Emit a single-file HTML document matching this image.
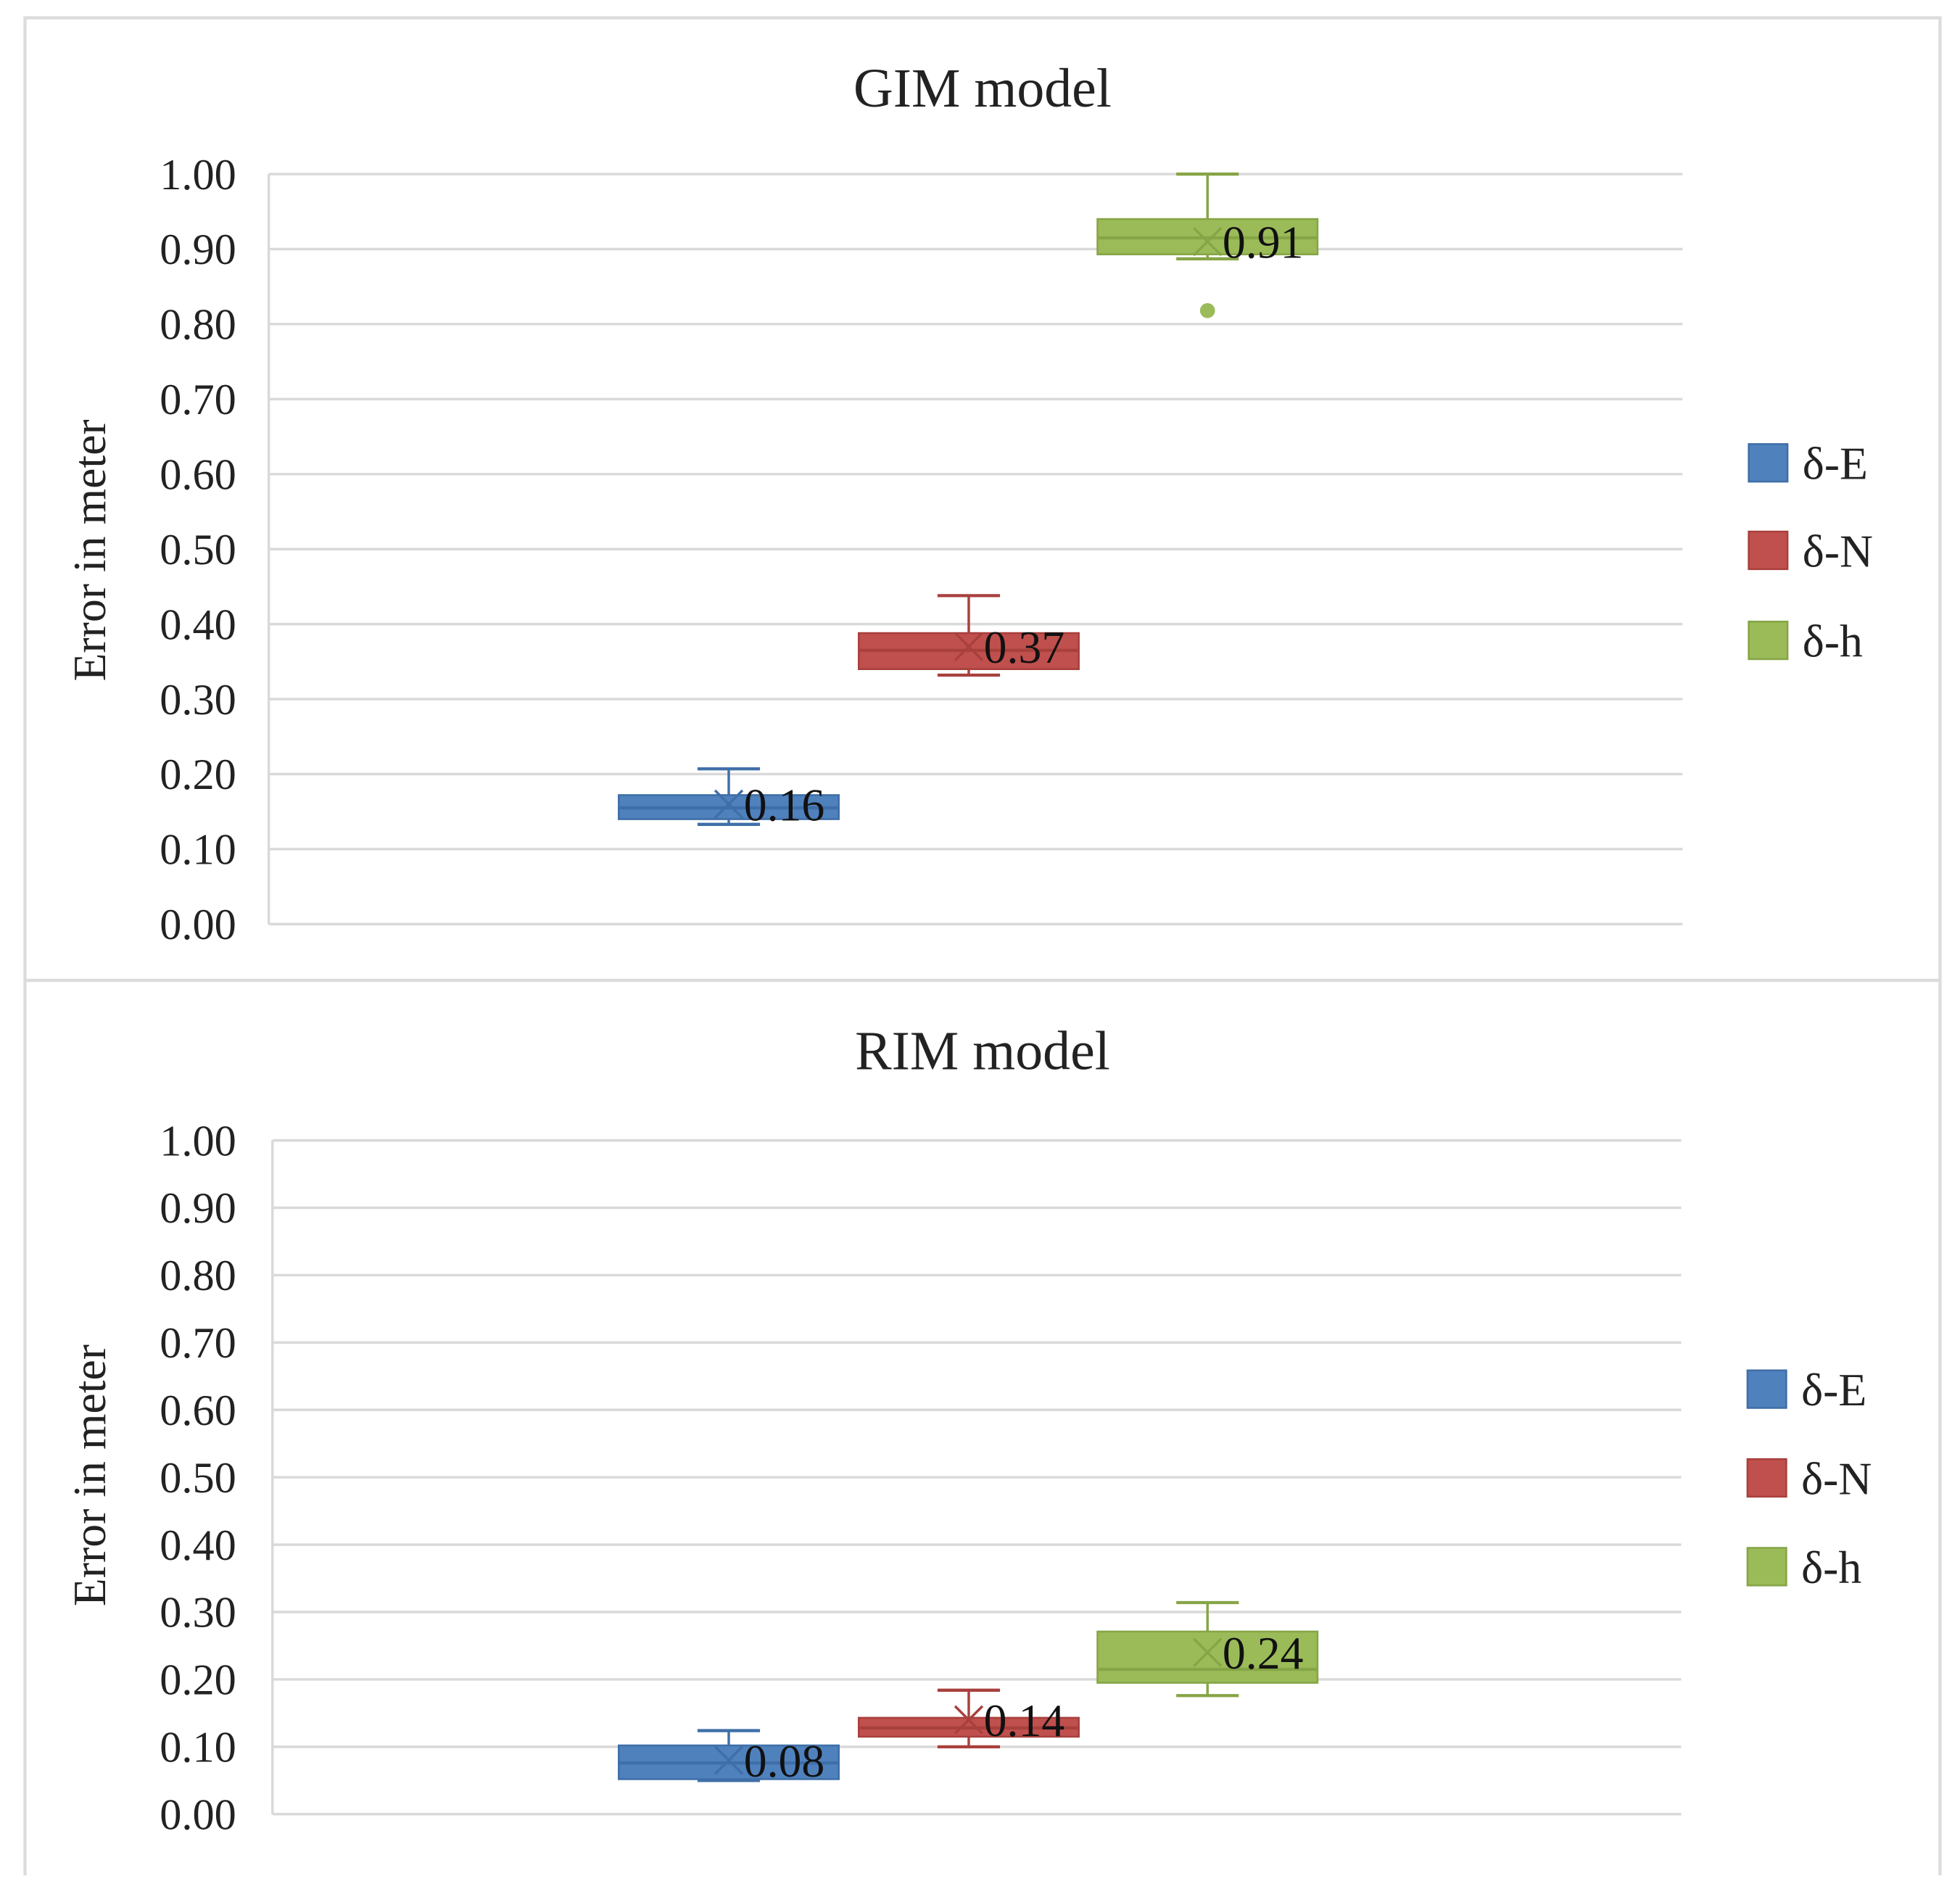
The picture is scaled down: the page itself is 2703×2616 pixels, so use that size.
<!DOCTYPE html>
<html><head><meta charset="utf-8"><style>
html,body{margin:0;padding:0;background:#fff;}
svg{display:block;font-family:"Liberation Serif",serif;}
</style></head><body>
<svg id="chart" width="2703" height="2616" viewBox="0 0 1568 1517" xmlns="http://www.w3.org/2000/svg">
<rect x="0" y="0" width="1568" height="1517" fill="#fff"/>
<g id="frame" stroke="#dcdcdc" stroke-width="2.5" fill="none">
<polyline points="20,1500 20,14 1552,14 1552,1500"/>
<line x1="20" y1="784" x2="1552" y2="784"/>
</g>
<g id="p0"></g>
<g id="p1"></g>
</svg>
<script>
const ticks = ["0.00","0.10","0.20","0.30","0.40","0.50","0.60","0.70","0.80","0.90","1.00"];
const tickValues = [0,0.1,0.2,0.3,0.4,0.5,0.6,0.7,0.8,0.9,1.0];
const seriesNames = ["δ-E","δ-N","δ-h"];
const panelTitles = ["GIM model","RIM model"];
// GIM
const gimMin = [0.133,0.332,0.887];
const gimQ1 = [0.140,0.340,0.893];
const gimMedian = [0.155,0.365,0.915];
const gimQ3 = [0.172,0.388,0.940];
const gimMax = [0.207,0.438,1.000];
const gimMean = [0.16,0.37,0.91];
const gimMeanLabels = ["0.16","0.37","0.91"];
const gimOutliers = [[],[],[0.818]];
// RIM
const rimMin = [0.050,0.100,0.176];
const rimQ1 = [0.052,0.115,0.195];
const rimMedian = [0.076,0.128,0.215];
const rimQ3 = [0.102,0.143,0.271];
const rimMax = [0.124,0.184,0.314];
const rimMean = [0.08,0.14,0.24];
const rimMeanLabels = ["0.08","0.14","0.24"];
const rimOutliers = [[],[],[]];

const fills = ["#4f81bd","#c0504d","#9bbb59"];
const strokes = ["#3f6fa8","#a8403d","#86a546"];
const NS = "http://www.w3.org/2000/svg";
function mk(tag, attrs, parent, text){
  const e = document.createElementNS(NS, tag);
  Object.keys(attrs).forEach(function(k){ e.setAttribute(k, String(attrs[k])); });
  if (text !== undefined) e.textContent = text;
  parent.appendChild(e); return e;
}
const layouts = [
  {gid:"p0", base:739, top:139, xl:215, xr:1346, titleY:85, axisTitleY:440, legY:[370,440,512], legX:1399, prefix:"gim",
   lo:gimMin, a:gimQ1, med:gimMedian, b:gimQ3, hi:gimMax, avg:gimMean, lbl:gimMeanLabels, outl:gimOutliers},
  {gid:"p1", base:1451, top:912, xl:218, xr:1345, titleY:855, axisTitleY:1180, legY:[1111,1182,1253], legX:1398, prefix:"rim",
   lo:rimMin, a:rimQ1, med:rimMedian, b:rimQ3, hi:rimMax, avg:rimMean, lbl:rimMeanLabels, outl:rimOutliers}
];
const centers = [583,775,966];
const boxW = 176, capW = 50;
for (let pi = 0; pi < layouts.length; pi++) {
  const L = layouts[pi];
  const g = document.getElementById(L.gid);
  const yScale = function(v){ return L.base + (L.top - L.base) * Number(v); };
  const t = mk("text",{x:786,y:L.titleY,"text-anchor":"middle","font-size":44,fill:"#222"},g,panelTitles[pi]);
  
  
  for (let k = 0; k < tickValues.length; k++) {
    const vy = yScale(tickValues[k]);
    const gl = mk("line",{x1:L.xl,x2:L.xr,y1:vy,y2:vy,stroke:"#d9d9d9","stroke-width":2},g);
    
    
    const tl = mk("text",{x:189,y:vy+12,"text-anchor":"end","font-size":35,fill:"#222"},g,ticks[k]);
    
    
  }
  const ax = mk("line",{x1:L.xl,x2:L.xl,y1:L.top,y2:L.base,stroke:"#d9d9d9","stroke-width":2},g);
  
  
  const at = mk("text",{x:0,y:0,transform:"translate(84,"+L.axisTitleY+") rotate(-90)","text-anchor":"middle","font-size":37,fill:"#222"},g,"Error in meter");
  
  
  for (let i = 0; i < 3; i++) {
    const cx = centers[i], col = strokes[i];
    const yHi = yScale(L.hi[i]), yLo = yScale(L.lo[i]);
    const yB = yScale(L.b[i]), yA = yScale(L.a[i]);
    const yMed = yScale(L.med[i]), yAvg = yScale(L.avg[i]);
    const bg = mk("g",{},g);
    
    
    mk("line",{x1:cx,x2:cx,y1:yHi,y2:yB,stroke:col,"stroke-width":2},bg);
    mk("line",{x1:cx,x2:cx,y1:yA,y2:yLo,stroke:col,"stroke-width":2},bg);
    mk("line",{x1:cx-capW/2,x2:cx+capW/2,y1:yHi,y2:yHi,stroke:col,"stroke-width":2.5},bg);
    mk("line",{x1:cx-capW/2,x2:cx+capW/2,y1:yLo,y2:yLo,stroke:col,"stroke-width":2.5},bg);
    mk("rect",{x:cx-boxW/2,y:yB,width:boxW,height:Math.max(1,yA-yB),fill:fills[i],stroke:col,"stroke-width":1.5},bg);
    mk("line",{x1:cx-boxW/2,x2:cx+boxW/2,y1:yMed,y2:yMed,stroke:col,"stroke-width":2.5},bg);
    mk("path",{d:"M"+(cx-11)+" "+(yAvg-11)+"L"+(cx+11)+" "+(yAvg+11)+"M"+(cx-11)+" "+(yAvg+11)+"L"+(cx+11)+" "+(yAvg-11),stroke:col,"stroke-width":2,fill:"none"},bg);
    const os = L.outl[i];
    for (let j = 0; j < os.length; j++) {
      const oc = mk("circle",{cx:cx,cy:yScale(os[j]),r:6,fill:fills[i]},g);
      
      
    }
    const lb = mk("text",{x:cx+12,y:yAvg+13,"font-size":37,fill:"#111"},g,L.lbl[i]);
    
    
    const le = mk("g",{},g);
    
    
    mk("rect",{x:L.legX,y:L.legY[i]-15,width:31,height:30,fill:fills[i],stroke:col,"stroke-width":1.5},le);
    mk("text",{x:L.legX+43,y:L.legY[i]+13,"font-size":37,fill:"#222"},le,seriesNames[i]);
  }
}
</script>
</body></html>
